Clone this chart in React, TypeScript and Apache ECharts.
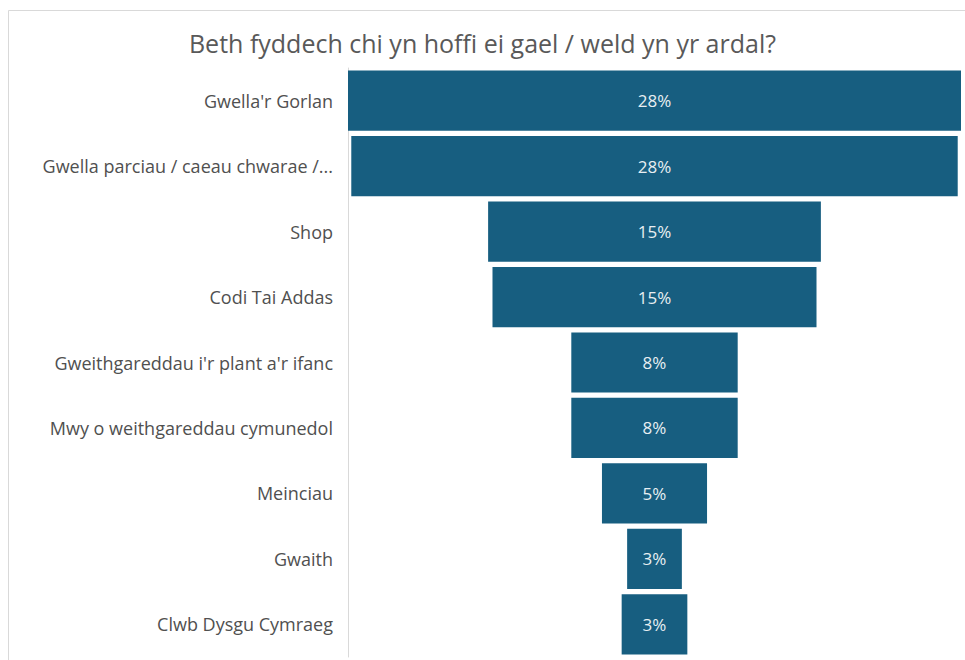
import React, { useEffect, useRef } from "react";
import * as echarts from "echarts";

const TITLE = "Beth fyddech chi yn hoffi ei gael / weld yn yr ardal?";
const categories = [
  "Gwella'r Gorlan",
  "Gwella parciau / caeau chwarae /...",
  "Shop",
  "Codi Tai Addas",
  "Gweithgareddau i'r plant a'r ifanc",
  "Mwy o weithgareddau cymunedol",
  "Meinciau",
  "Gwaith",
  "Clwb Dysgu Cymraeg",
];
const values = [28.0, 27.7, 15.2, 14.8, 7.6, 7.6, 4.8, 2.5, 3.0];

const FONT = "'Open Sans', 'Noto Sans', sans-serif";

export default function App() {
  const ref = useRef<HTMLDivElement>(null);
  useEffect(() => {
    if (!ref.current) return;
    const chart = echarts.init(ref.current, undefined, { renderer: "svg" });
    const maxV = Math.max(...values);
    const offsets = values.map((v) => (maxV - v) / 2);
    chart.setOption({
      animation: false,
      backgroundColor: "#ffffff",
      title: {
        text: TITLE,
        left: "center",
        top: 25,
        textStyle: { fontFamily: FONT, fontSize: 25, fontWeight: "normal", color: "#595959" },
      },
      graphic: [
        {
          type: "rect",
          shape: { x: 8.5, y: 10.5, width: 1000, height: 700 },
          style: { fill: "none", stroke: "#d9d9d9", lineWidth: 1 },
          silent: true,
        },
      ],
      grid: { left: 348, right: 4, top: 68, bottom: 3, containLabel: false },
      xAxis: {
        type: "value",
        min: 0,
        max: maxV,
        show: false,
      },
      yAxis: {
        type: "category",
        data: categories,
        inverse: true,
        axisLine: { show: true, lineStyle: { color: "#d9d9d9", width: 1 } },
        axisTick: { show: false },
        axisLabel: {
          margin: 15,
          fontFamily: FONT,
          fontSize: 18,
          color: "#505050",
        },
      },
      series: [
        {
          type: "bar",
          stack: "f",
          data: offsets,
          itemStyle: { color: "transparent" },
          silent: true,
          barCategoryGap: "8%",
        },
        {
          type: "bar",
          stack: "f",
          data: values,
          barCategoryGap: "8%",
          itemStyle: { color: "#175e80" },
          label: {
            show: true,
            position: "inside",
            fontFamily: FONT,
            fontSize: 17,
            color: "#e8eef2",
            formatter: (p: any) => Math.round(p.value) + "%",
          },
        },
      ],
    });
    return () => chart.dispose();
  }, []);
  return (
    <div
      ref={ref}
      style={{ position: "absolute", left: 0, top: 0, width: 965, height: 660 }}
    />
  );
}
